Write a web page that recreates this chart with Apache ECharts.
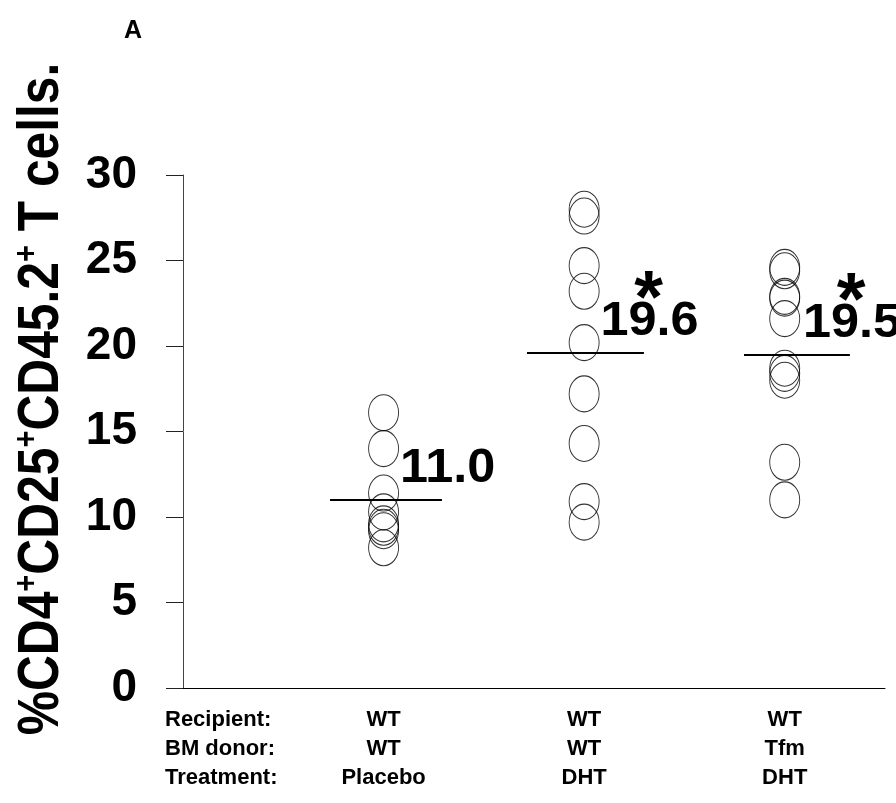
<!DOCTYPE html>
<html>
<head>
<meta charset="utf-8">
<script src="https://cdn.jsdelivr.net/npm/echarts@6/dist/echarts.min.js"></script>
<style>
  html, body { margin: 0; padding: 0; background: #fff; }
  #chart { width: 896px; height: 803px; }
</style>
</head>
<body>
<div id="chart"></div>
<script>
// Group descriptors shown under the x axis
const rowHeaders = ['Recipient:', 'BM donor:', 'Treatment:'];
const recipient = ['WT', 'WT', 'WT'];
const bmDonor = ['WT', 'WT', 'Tfm'];
const treatment = ['Placebo', 'DHT', 'DHT'];

// %CD4+CD25+CD45.2+ T cells per animal
const placeboWT = [16.1, 14.0, 11.4, 10.3, 9.6, 9.4, 9.2, 8.2];
const dhtWT = [28.0, 27.6, 24.7, 23.2, 20.2, 17.2, 14.3, 10.9, 9.7];
const dhtTfm = [24.6, 24.4, 22.9, 22.8, 21.6, 18.7, 18.4, 18.0, 13.2, 11.0];

// Group means and significance markers
const groupMeans = [11.0, 19.6, 19.5];
const significant = [false, true, true];

// Y axis range
const yMin = 0, yMax = 30, yStep = 5;

const groups = [placeboWT, dhtWT, dhtTfm];
// horizontal extent of each mean bar and label offset, in x-axis units
const meanSpan = [[-0.267, 0.291], [-0.285, 0.298], [-0.203, 0.325]];
const labelShift = [0.319, 0.326, 0.336];

const sans = '"Liberation Sans", Arial, sans-serif';

const chart = echarts.init(document.getElementById('chart'), null, { renderer: 'canvas' });

const pointSeries = groups.map((vals, gi) => ({
  type: 'scatter',
  name: treatment[gi] + ' ' + bmDonor[gi],
  data: vals.map(v => [gi + 1, v]),
  symbol: 'circle',
  symbolSize: [30, 36],
  itemStyle: { color: 'rgba(0,0,0,0)', borderColor: '#000', borderWidth: 1 },
  silent: true,
  animation: false,
  markLine: {
    silent: true,
    animation: false,
    symbol: ['none', 'none'],
    lineStyle: { color: '#000', width: 2, type: 'solid' },
    label: { show: false },
    data: [[
      { coord: [gi + 1 + meanSpan[gi][0], groupMeans[gi]] },
      { coord: [gi + 1 + meanSpan[gi][1], groupMeans[gi]] }
    ]]
  }
}));

// Mean value text, with an asterisk above where significant
const meanLabelSeries = {
  type: 'custom',
  clip: false,
  silent: true,
  animation: false,
  data: groupMeans.map((m, gi) => [gi + 1 + labelShift[gi], m, gi]),
  renderItem: (params, api) => {
    const gi = api.value(2);
    const pt = api.coord([api.value(0), api.value(1)]);
    const children = [{
      type: 'text',
      x: pt[0],
      y: pt[1] - 7,
      scaleX: 1.05,
      style: {
        text: groupMeans[gi].toFixed(1),
        x: 0, y: 0,
        align: 'center',
        verticalAlign: 'bottom',
        font: 'bold 48px ' + sans,
        fill: '#000'
      }
    }];
    if (significant[gi]) {
      children.push({
        type: 'text',
        x: pt[0] - 1,
        y: pt[1] - 88,
        style: {
          text: '*',
          x: 0, y: 0,
          align: 'center',
          verticalAlign: 'top',
          font: 'bold 74px ' + sans,
          fill: '#000'
        }
      });
    }
    return { type: 'group', children };
  }
};

chart.setOption({
  animation: false,
  grid: { left: 183, right: 11, top: 175, bottom: 115, containLabel: false },
  xAxis: {
    type: 'value',
    min: 0,
    max: 3.5,
    interval: 1,
    splitLine: { show: false },
    axisTick: { show: false },
    axisLine: { show: true, lineStyle: { color: '#000', width: 1 } },
    axisLabel: {
      show: true,
      margin: 17,
      showMinLabel: true,
      showMaxLabel: false,
      fontFamily: sans,
      fontWeight: 'bold',
      fontSize: 22,
      lineHeight: 29,
      color: '#000',
      formatter: v => {
        const i = Math.round(v) - 1;
        if (i < 0 || i > 2 || Math.abs(v - Math.round(v)) > 1e-6) return '';
        return recipient[i] + '\n' + bmDonor[i] + '\n' + treatment[i];
      }
    }
  },
  yAxis: {
    type: 'value',
    min: yMin,
    max: yMax,
    interval: yStep,
    splitLine: { show: false },
    axisLine: { show: true, lineStyle: { color: '#444', width: 1 } },
    axisTick: { show: true, inside: false, length: 17, lineStyle: { color: '#222', width: 1 } },
    axisLabel: {
      margin: 46,
      fontFamily: sans,
      fontWeight: 'bold',
      fontSize: 46,
      color: '#000'
    }
  },
  graphic: [
    {
      type: 'text',
      left: 124,
      top: 19,
      style: { text: 'A', font: 'bold 25px ' + sans, fill: '#000' }
    },
    {
      type: 'text',
      left: 165,
      top: 705,
      style: {
        text: rowHeaders.join('\n'),
        font: 'bold 22px ' + sans,
        lineHeight: 29,
        fill: '#000'
      }
    },
    {
      type: 'text',
      x: 41,
      y: 399,
      rotation: Math.PI / 2,
      scaleX: 0.857,
      style: {
        text: '{b|%CD4}{s|+}{b|CD25}{s|+}{b|CD45.2}{s|+}{b| T cells.}',
        align: 'center',
        verticalAlign: 'middle',
        fill: '#000',
        rich: {
          b: { font: 'bold 58px ' + sans, fill: '#000', lineHeight: 60, verticalAlign: 'bottom' },
          s: { font: 'bold 34px ' + sans, fill: '#000', lineHeight: 60, verticalAlign: 'top' }
        }
      }
    }
  ],
  series: pointSeries.concat([meanLabelSeries])
});
</script>
</body>
</html>
